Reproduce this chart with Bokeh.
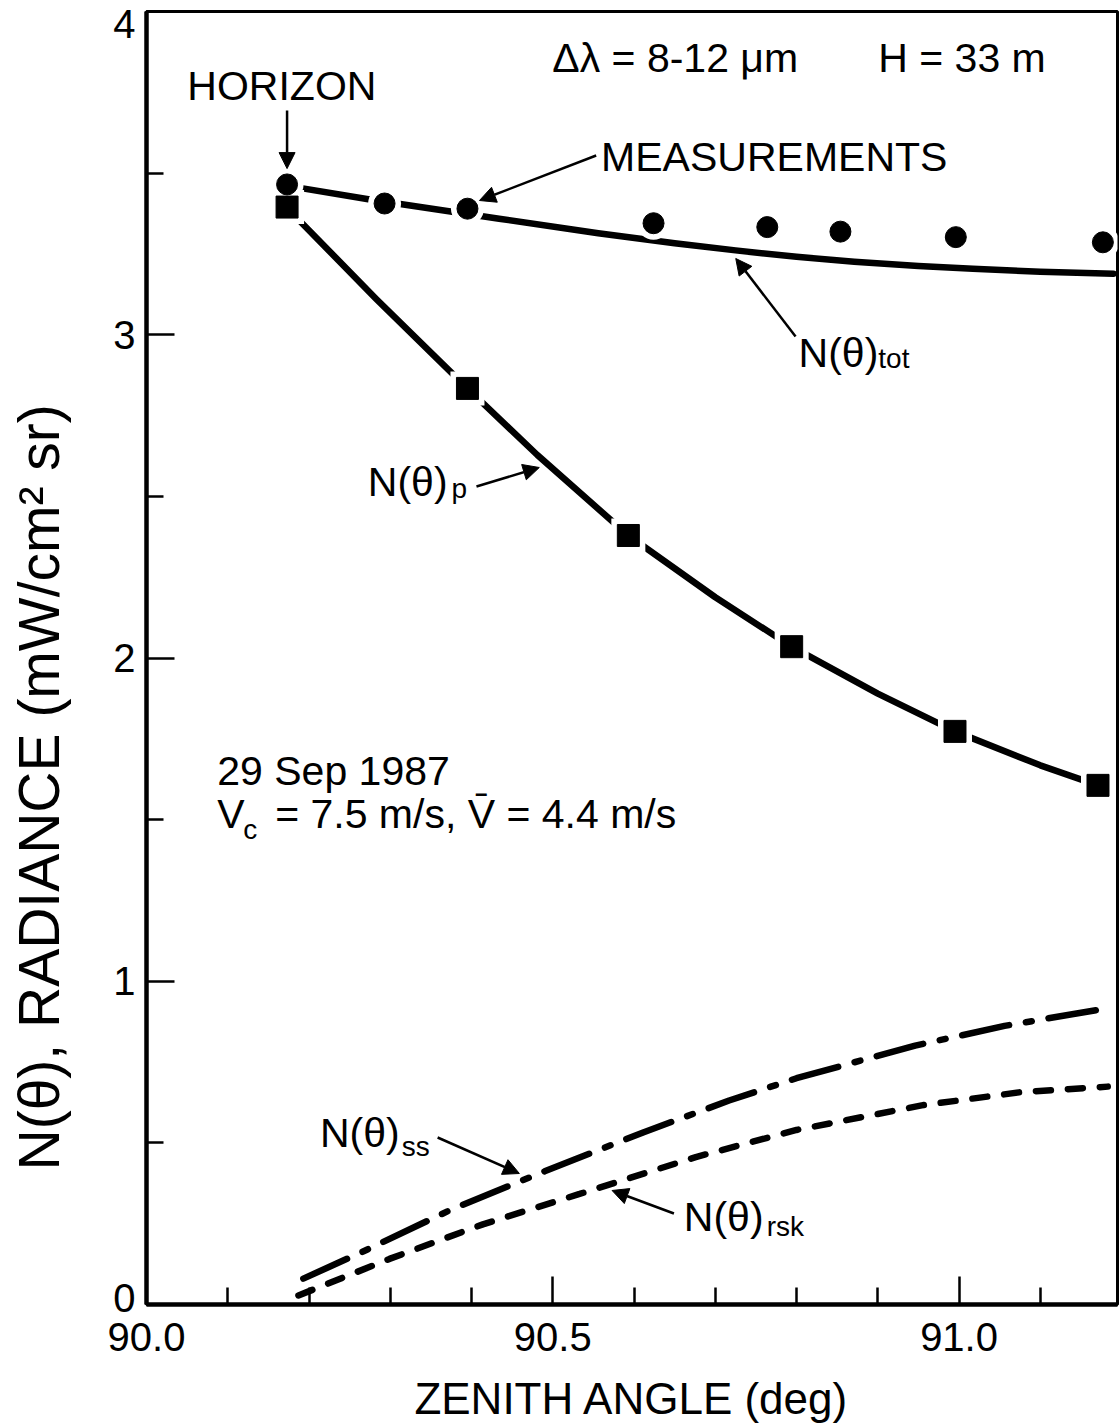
import math
from bokeh.plotting import figure
from bokeh.models import (Label, Arrow, NormalHead, FixedTicker, LinearAxis,
                          PrintfTickFormatter, CustomJSTickFormatter, Range1d, Title)
from bokeh.embed import file_html
from bokeh.resources import INLINE

FONT = "Liberation Sans"

# ---------------- data ----------------
# measurements (filled circles)
meas_x = [90.173, 90.293, 90.395, 90.624, 90.764, 90.854, 90.996, 91.177]
meas_y = [3.465, 3.406, 3.390, 3.345, 3.333, 3.319, 3.302, 3.286]

# N(theta)_tot  (solid curve)
tot_x = [90.17, 90.273, 90.434, 90.556, 90.65, 90.725, 90.80, 90.871, 90.95, 91.017, 91.10, 91.19]
tot_y = [3.462, 3.419, 3.359, 3.314, 3.283, 3.261, 3.241, 3.226, 3.213, 3.204, 3.195, 3.189]

# N(theta)_p  (solid curve with squares)
p_x = [90.17, 90.283, 90.395, 90.481, 90.593, 90.70, 90.794, 90.90, 90.995, 91.10, 91.171]
p_y = [3.400, 3.110, 2.834, 2.628, 2.379, 2.188, 2.035, 1.890, 1.773, 1.668, 1.606]
sq_x = [90.173, 90.395, 90.593, 90.794, 90.995, 91.171]
sq_y = [3.395, 2.834, 2.379, 2.035, 1.773, 1.606]

# N(theta)_ss  (dash-dot)
ss_x = [90.193, 90.265, 90.377, 90.49, 90.612, 90.717, 90.80, 90.946, 91.056, 91.179]
ss_y = [0.080, 0.162, 0.296, 0.412, 0.533, 0.631, 0.700, 0.801, 0.862, 0.915]

# N(theta)_rsk (dashed)
rsk_x = [90.187, 90.299, 90.414, 90.533, 90.676, 90.80, 90.954, 91.076, 91.183]
rsk_y = [0.028, 0.141, 0.248, 0.342, 0.456, 0.540, 0.616, 0.657, 0.674]

# ticks
x_major = [90.0, 90.5, 91.0]
x_minor = [90.1, 90.2, 90.3, 90.4, 90.6, 90.7, 90.8, 90.9, 91.1]
y_major = [0, 1, 2, 3, 4]
y_minor = [0.5, 1.5, 2.5, 3.5]
# where the y tick labels sit (as printed in the reference)
y_label_pos = [0.02, 1, 2, 3, 3.96]

# ---------------- figure ----------------
p = figure(width=1120, height=1426,
           x_range=Range1d(90.0, 91.195), y_range=Range1d(0, 4),
           output_backend="svg", toolbar_location=None,
           min_border_left=146, min_border_right=3,
           min_border_top=11, min_border_bottom=122)
p.grid.visible = False
p.background_fill_color = "white"
p.border_fill_color = "white"
p.outline_line_color = "black"
p.outline_line_width = 3

for ax in (p.xaxis[0], p.yaxis[0]):
    ax.axis_line_width = 4.5
    ax.axis_line_color = "black"
    ax.major_tick_in = 28
    ax.major_tick_out = 0
    ax.minor_tick_in = 17
    ax.minor_tick_out = 0
    ax.major_tick_line_width = 2.5
    ax.minor_tick_line_width = 2.5
    ax.major_tick_line_color = "black"
    ax.minor_tick_line_color = "black"
    ax.major_label_text_font = FONT
    ax.major_label_text_font_size = "40px"
    ax.major_label_text_color = "black"

p.xaxis.ticker = FixedTicker(ticks=x_major, minor_ticks=x_minor)
p.xaxis.formatter = PrintfTickFormatter(format="%.1f")
p.xaxis.major_label_standoff = 18
p.xaxis.axis_label = "ZENITH ANGLE (deg)"
p.xaxis.axis_label_text_font = FONT
p.xaxis.axis_label_text_font_size = "44px"
p.xaxis.axis_label_text_font_style = "normal"
p.xaxis.axis_label_text_color = "black"
p.xaxis.axis_label_standoff = 20

# primary y axis: line + ticks only
p.yaxis.ticker = FixedTicker(ticks=y_major, minor_ticks=y_minor)
p.yaxis.formatter = CustomJSTickFormatter(code="return ''")
p.yaxis.major_label_standoff = 0

# secondary y axis: only the numbers
ylab_axis = LinearAxis(ticker=FixedTicker(ticks=y_label_pos),
                       formatter=PrintfTickFormatter(format="%.0f"),
                       axis_line_color=None, major_tick_line_color=None,
                       minor_tick_line_color=None, major_tick_in=0, major_tick_out=0,
                       minor_tick_in=0, minor_tick_out=0,
                       major_label_standoff=11, major_label_text_font=FONT,
                       major_label_text_font_size="40px",
                       major_label_text_color="black")
p.add_layout(ylab_axis, "left")

# y-axis title: spacer panel + title shifted along the axis
p.add_layout(Title(text=" ", text_font=FONT, text_font_size="30px",
                   standoff=5), "left")
p.add_layout(Title(text="N(θ), RADIANCE (mW/cm² sr)", text_font=FONT,
                   text_font_size="57px", text_font_style="normal",
                   text_color="black", align="left", offset=134,
                   standoff=0), "left")

# ---------------- curves ----------------
LW = 6.5
p.line(tot_x, tot_y, line_width=LW, line_color="black", line_cap="round", line_join="round")
p.line(p_x, p_y, line_width=LW, line_color="black", line_cap="round", line_join="round")
p.line(ss_x, ss_y, line_width=LW, line_color="black", line_cap="round",
       line_dash="48 17 6 17")
p.line(rsk_x, rsk_y, line_width=LW, line_color="black", line_cap="round",
       line_dash="15 17")

# white halos then markers
p.scatter(sq_x, sq_y, marker="square", size=34, fill_color="white", line_color=None)
p.scatter(meas_x, meas_y, marker="circle", size=33, fill_color="white", line_color=None)
p.scatter(sq_x, sq_y, marker="square", size=22, fill_color="black", line_color="black")
p.scatter(meas_x, meas_y, marker="circle", size=21, fill_color="black", line_color="black")

# ---------------- text annotations ----------------
FIX = 14 / 323.25   # baseline correction (screen px -> data units)


def lab(x, y, text, size="41px", align="left", baseline="alphabetic", **kw):
    p.add_layout(Label(x=x, y=y + FIX, text=text, text_font=FONT, text_font_size=size,
                       text_color="black", text_align=align,
                       text_baseline=baseline, **kw))


def arrow(x0, y0, x1, y1):
    p.add_layout(Arrow(end=NormalHead(size=16, fill_color="black", line_color="black",
                                      line_width=1),
                       x_start=x0, y_start=y0, x_end=x1, y_end=y1,
                       line_width=2.5, line_color="black"))


SUB = "28px"

lab(90.0503, 3.7247, "HORIZON")
arrow(90.173, 3.694, 90.173, 3.514)

lab(90.4994, 3.8113, "Δλ = 8-12 μm")
lab(90.9006, 3.8113, "H = 33 m")

lab(90.5595, 3.5081, "MEASUREMENTS")
arrow(90.5534, 3.5545, 90.4098, 3.4153)

lab(90.8025, 2.8987, "N(θ)")
lab(90.9006, 2.8832, "tot", size=SUB)
arrow(90.7988, 2.9946, 90.7252, 3.2359)

lab(90.2724, 2.5027, "N(θ)")
lab(90.3755, 2.4810, "p", size=SUB)
arrow(90.4061, 2.5305, 90.4834, 2.5893)

lab(90.0871, 1.6056, "29 Sep 1987")
lab(90.0871, 1.4756, "V")
lab(90.1190, 1.4261, "c", size=SUB)
lab(90.1583, 1.4756, "= 7.5 m/s, V\u0304 = 4.4 m/s")

lab(90.2135, 0.4857, "N(θ)")
lab(90.3141, 0.4455, "ss", size=SUB)
arrow(90.3583, 0.5166, 90.4589, 0.4053)

lab(90.6613, 0.2289, "N(θ)")
lab(90.7632, 0.1980, "rsk", size=SUB)
arrow(90.6491, 0.2815, 90.5730, 0.3527)

open("out.html", "w").write(file_html(p, INLINE))
